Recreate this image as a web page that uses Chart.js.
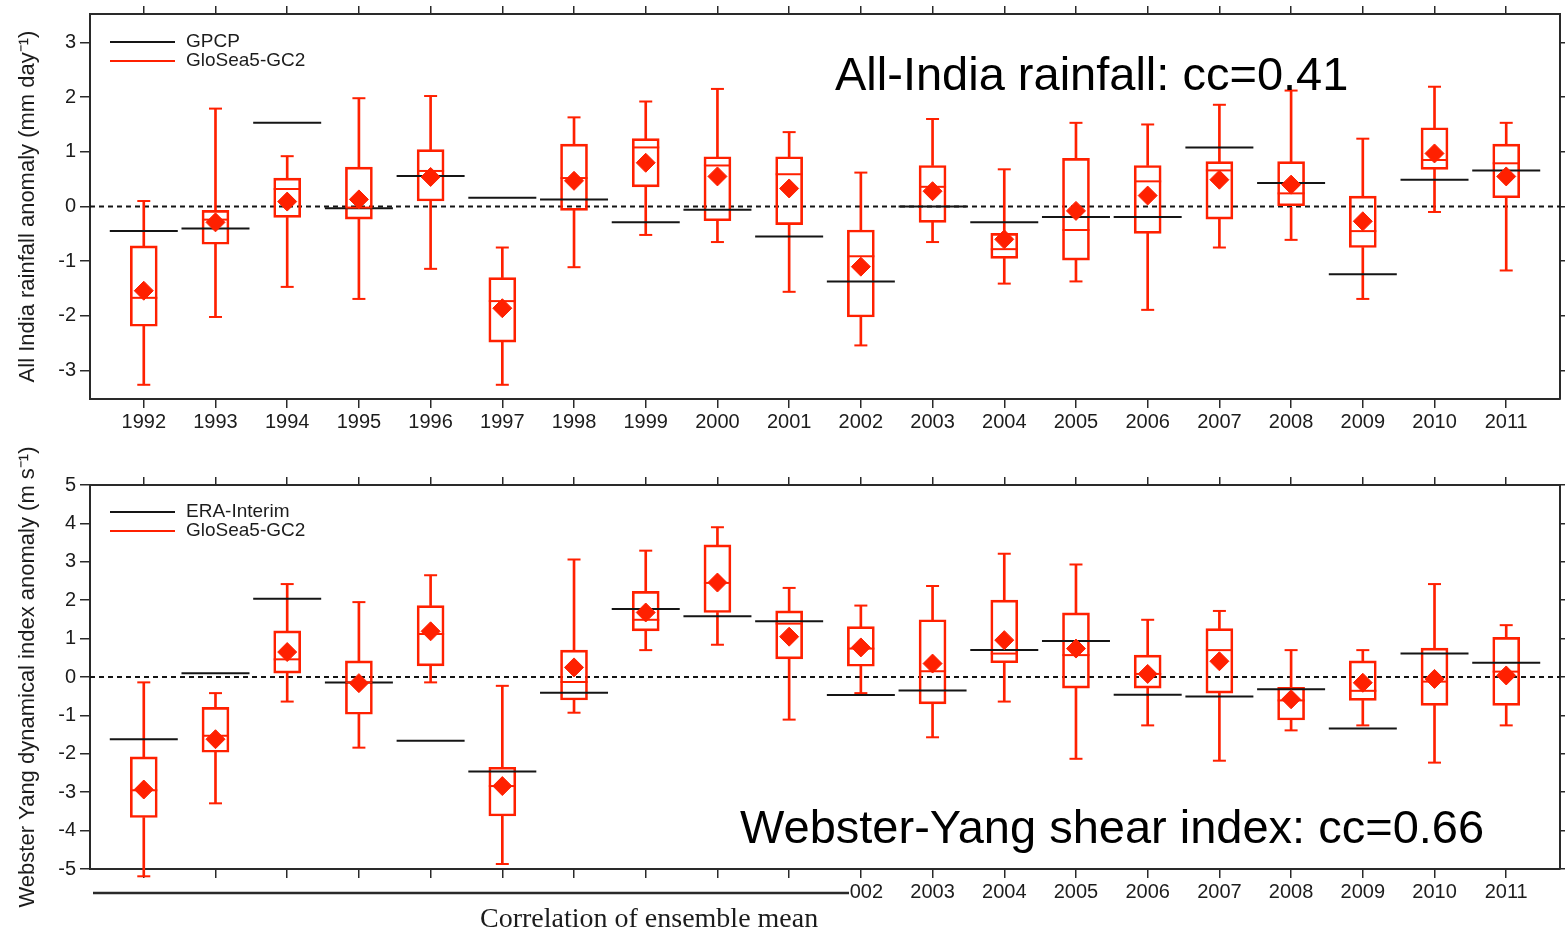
<!DOCTYPE html>
<html>
<head>
<meta charset="utf-8">
<script src="https://cdn.jsdelivr.net/npm/chart.js@4.4.1/dist/chart.umd.min.js"></script>
<style>
  html, body { margin: 0; padding: 0; background: #fff; }
  #wrap { position: relative; width: 1565px; height: 938px; overflow: hidden; }
  canvas { position: absolute; left: 0; }
  #topChart { top: 0; }
  #bottomChart { top: 440px; }
</style>
</head>
<body>
<div id="wrap">
  <canvas id="topChart" width="1565" height="440"></canvas>
  <canvas id="bottomChart" width="1565" height="498"></canvas>
</div>
<script>
// Years on the x axis
const years = [1992, 1993, 1994, 1995, 1996, 1997, 1998, 1999, 2000, 2001,
               2002, 2003, 2004, 2005, 2006, 2007, 2008, 2009, 2010, 2011];

// All-India rainfall (mm/day): GPCP obs and GloSea5-GC2 ensemble stats
const rainObs    = [-0.45, -0.40, 1.53, -0.03, 0.56, 0.16, 0.13, -0.29, -0.06, -0.55, -1.37, 0.00, -0.29, -0.19, -0.19, 1.08, 0.43, -1.24, 0.49, 0.66];
const rainMean   = [-1.54, -0.29, 0.09, 0.13, 0.54, -1.86, 0.47, 0.80, 0.55, 0.33, -1.10, 0.28, -0.60, -0.08, 0.20, 0.49, 0.40, -0.27, 0.97, 0.55];
const rainMedian = [-1.67, -0.24, 0.32, -0.02, 0.65, -1.73, 0.52, 1.08, 0.75, 0.59, -0.91, 0.36, -0.78, -0.43, 0.46, 0.66, 0.24, -0.45, 0.85, 0.79];
const rainQ1     = [-2.19, -0.69, -0.20, -0.23, 0.10, -2.48, -0.07, 0.36, -0.26, -0.33, -2.02, -0.29, -0.95, -0.98, -0.49, -0.23, 0.00, -0.75, 0.68, 0.16];
const rainQ3     = [-0.72, -0.07, 0.52, 0.72, 1.04, -1.30, 1.14, 1.24, 0.91, 0.91, -0.43, 0.75, -0.49, 0.88, 0.75, 0.82, 0.82, 0.19, 1.44, 1.14];
const rainMin    = [-3.26, -2.02, -1.47, -1.69, -1.14, -3.26, -1.11, -0.52, -0.65, -1.56, -2.54, -0.65, -1.41, -1.37, -1.89, -0.75, -0.61, -1.69, -0.10, -1.17];
const rainMax    = [0.10, 1.79, 0.92, 1.98, 2.02, -0.75, 1.63, 1.92, 2.15, 1.36, 0.62, 1.60, 0.68, 1.53, 1.50, 1.86, 2.12, 1.24, 2.19, 1.53];

// Webster-Yang shear index (m/s): ERA-Interim obs and GloSea5-GC2 ensemble stats
const shearObs    = [-1.62, 0.10, 2.04, -0.14, -1.66, -2.46, -0.41, 1.77, 1.58, 1.45, -0.47, -0.35, 0.70, 0.94, -0.46, -0.51, -0.32, -1.34, 0.61, 0.37];
const shearMean   = [-2.93, -1.62, 0.65, -0.16, 1.19, -2.84, 0.25, 1.68, 2.46, 1.05, 0.77, 0.35, 0.96, 0.74, 0.08, 0.41, -0.58, -0.15, -0.05, 0.04];
const shearMedian = [-2.95, -1.53, 0.46, -0.14, 1.12, -2.84, -0.13, 1.49, 2.45, 1.39, 0.74, 0.15, 0.61, 0.57, 0.08, 0.70, -0.61, -0.36, -0.12, 0.14];
const shearQ1     = [-3.66, -1.96, 0.10, -0.97, 0.29, -3.62, -0.60, 1.20, 1.68, 0.47, 0.28, -0.70, 0.37, -0.29, -0.29, -0.42, -1.12, -0.61, -0.74, -0.74];
const shearQ3     = [-2.08, -0.79, 1.20, 0.42, 1.86, -2.35, 0.70, 2.23, 3.44, 1.72, 1.31, 1.49, 2.00, 1.67, 0.57, 1.26, -0.27, 0.42, 0.75, 1.03];
const shearMin    = [-5.19, -3.29, -0.64, -1.84, -0.14, -4.87, -0.93, 0.70, 0.84, -1.11, -0.42, -1.57, -0.64, -2.13, -1.26, -2.18, -1.39, -1.26, -2.23, -1.26];
const shearMax    = [-0.14, -0.42, 2.42, 1.95, 2.65, -0.23, 3.06, 3.29, 3.90, 2.32, 1.86, 2.37, 3.21, 2.93, 1.49, 1.72, 0.70, 0.70, 2.42, 1.35];

// Tick labels
const rainTicks  = [-3, -2, -1, 0, 1, 2, 3];
const shearTicks = [-5, -4, -3, -2, -1, 0, 1, 2, 3, 4, 5];

const RED = '#ff2000';
const OBS = '#151515';
const AXIS = '#2a2a2a';
const TEXT = '#1c1c1c';
const xMin = years[0] - 0.75;
const xMax = years[years.length - 1] + 0.75;

Chart.defaults.font.family = '"Liberation Sans", Arial, Helvetica, sans-serif';
Chart.defaults.color = TEXT;

// Build the box-plot datasets for one panel
function panelDatasets(obs, mean, median, q1, q3, lo, hi) {
    const pts = arr => years.map((yr, i) => ({ x: yr, y: arr[i] }));
    const pointSet = (arr, style, radius, color, fill, width) => ({
        type: 'line', data: pts(arr), showLine: false, clip: false,
        pointStyle: style, pointRadius: radius, pointHoverRadius: radius,
        pointBorderColor: color, pointBackgroundColor: fill, pointBorderWidth: width
    });
    return [
        pointSet(mean, 'rectRot', 9.5, RED, RED, 1),
        pointSet(median, 'line', 13.5, RED, RED, 2),
        pointSet(obs, 'line', 34, OBS, OBS, 2),
        {
            type: 'bar', data: years.map((yr, i) => ({ x: yr, y: [q1[i], q3[i]] })),
            grouped: false, barThickness: 27, borderColor: RED, borderWidth: 2,
            borderSkipped: false, backgroundColor: 'rgba(0,0,0,0)', clip: false
        },
        {
            type: 'bar', data: years.map((yr, i) => ({ x: yr, y: [q3[i], hi[i]] })),
            grouped: false, barThickness: 2, backgroundColor: RED, borderWidth: 0, clip: false
        },
        {
            type: 'bar', data: years.map((yr, i) => ({ x: yr, y: [lo[i], q1[i]] })),
            grouped: false, barThickness: 2, backgroundColor: RED, borderWidth: 0, clip: false
        },
        pointSet(hi, 'line', 6.5, RED, RED, 2),
        pointSet(lo, 'line', 6.5, RED, RED, 2),
        {
            type: 'line', data: [{ x: xMin, y: 0 }, { x: xMax, y: 0 }],
            borderColor: OBS, borderWidth: 2, borderDash: [5, 4], pointRadius: 0
        }
    ];
}

// Pin an axis box to a fixed size
function pin(prop, size) {
    return s => {
        s[prop] = size;
        s.paddingLeft = s.paddingRight = s.paddingTop = s.paddingBottom = 0;
    };
}

// Axes: labelled left/bottom, tick-only right/top
function panelScales(yMin, yMax, yTicks, yTitle, bottomH, topH) {
    const yearTicks = s => { s.ticks = years.map(v => ({ value: v })); };
    const valTicks = s => { s.ticks = yTicks.map(v => ({ value: v })); };
    const grid = len => ({ drawOnChartArea: false, offset: false, tickLength: len, color: AXIS, lineWidth: 1.5 });
    const border = { color: AXIS, width: 2 };
    return {
        x: {
            type: 'linear', position: 'bottom', min: xMin, max: xMax, offset: false,
            grid: grid(9), border,
            ticks: { font: { size: 20 }, color: TEXT, padding: 2, maxRotation: 0, autoSkip: false, callback: v => String(v) },
            afterBuildTicks: yearTicks, afterFit: pin('height', bottomH)
        },
        x2: {
            type: 'linear', position: 'top', min: xMin, max: xMax, offset: false,
            grid: grid(8), border, ticks: { display: false },
            afterBuildTicks: yearTicks, afterFit: pin('height', topH)
        },
        y: {
            type: 'linear', position: 'left', min: yMin, max: yMax,
            grid: grid(10), border,
            ticks: { font: { size: 20 }, color: TEXT, padding: 4, callback: v => String(v) },
            title: { display: true, text: yTitle, font: { size: 22 }, color: TEXT, padding: { top: 15, bottom: 0 } },
            afterBuildTicks: valTicks, afterFit: pin('width', 90)
        },
        y2: {
            type: 'linear', position: 'right', min: yMin, max: yMax,
            grid: grid(5), border, ticks: { display: false },
            afterBuildTicks: valTicks, afterFit: pin('width', 5)
        }
    };
}

// Legend, cc annotation and the extra caption strip
function overlay(legend, note, caption) {
    return {
        id: 'overlay',
        afterDraw(chart) {
            const ctx = chart.ctx;
            ctx.save();
            legend.forEach(item => {
                ctx.strokeStyle = item.color;
                ctx.lineWidth = 2;
                ctx.beginPath();
                ctx.moveTo(110, item.y);
                ctx.lineTo(175, item.y);
                ctx.stroke();
                ctx.fillStyle = TEXT;
                ctx.font = '19px "Liberation Sans", Arial, sans-serif';
                ctx.textBaseline = 'middle';
                ctx.fillText(item.label, 186, item.y);
            });
            ctx.fillStyle = '#000';
            ctx.textBaseline = 'alphabetic';
            ctx.font = '47px "Liberation Sans", Arial, sans-serif';
            ctx.fillText(note.text, note.x, note.y);
            if (caption) {
                ctx.fillStyle = '#fff';
                ctx.fillRect(60, 443, 789, 55);
                ctx.strokeStyle = AXIS;
                ctx.lineWidth = 2.5;
                ctx.beginPath();
                ctx.moveTo(93, 453);
                ctx.lineTo(849, 453);
                ctx.stroke();
                ctx.fillStyle = TEXT;
                ctx.font = '28px "Liberation Serif", "Times New Roman", serif';
                ctx.fillText(caption, 480, 487);
            }
            ctx.restore();
        }
    };
}

const baseOptions = {
    responsive: false,
    animation: false,
    layout: { padding: 0, autoPadding: false },
    plugins: { legend: { display: false }, tooltip: { enabled: false } }
};

new Chart(document.getElementById('topChart'), {
    type: 'bar',
    data: { datasets: panelDatasets(rainObs, rainMean, rainMedian, rainQ1, rainQ3, rainMin, rainMax) },
    options: {
        ...baseOptions,
        scales: panelScales(-3.52, 3.52, rainTicks, 'All India rainfall anomaly (mm day\u207B\u00B9)', 41, 14)
    },
    plugins: [overlay(
        [{ label: 'GPCP', color: OBS, y: 42 }, { label: 'GloSea5-GC2', color: RED, y: 61 }],
        { text: 'All-India rainfall: cc=0.41', x: 835, y: 90 },
        null
    )]
});

new Chart(document.getElementById('bottomChart'), {
    type: 'bar',
    data: { datasets: panelDatasets(shearObs, shearMean, shearMedian, shearQ1, shearQ3, shearMin, shearMax) },
    options: {
        ...baseOptions,
        scales: panelScales(-5, 5, shearTicks, 'Webster Yang dynamical index anomaly (m s\u207B\u00B9)', 69, 45)
    },
    plugins: [overlay(
        [{ label: 'ERA-Interim', color: OBS, y: 72 }, { label: 'GloSea5-GC2', color: RED, y: 91 }],
        { text: 'Webster-Yang shear index: cc=0.66', x: 740, y: 403 },
        'Correlation of ensemble mean'
    )]
});
</script>
</body>
</html>
